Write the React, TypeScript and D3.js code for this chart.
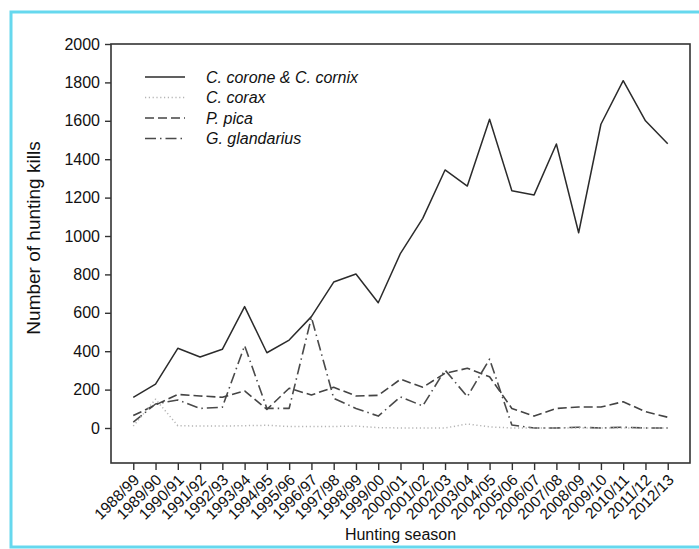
import * as d3 from "d3";
import * as React from "react";

const seasons = [
    "1988/99", "1989/90", "1990/91", "1991/92", "1992/93", "1993/94", "1994/95",
    "1995/96", "1996/97", "1997/98", "1998/99", "1999/00", "2000/01", "2001/02",
    "2002/03", "2003/04", "2004/05", "2005/06", "2006/07", "2007/08", "2008/09",
    "2009/10", "2010/11", "2011/12", "2012/13",
];

const corone = [160, 228, 415, 370, 410, 632, 392, 458, 580, 760, 802, 652, 910, 1092,
    1344, 1260, 1608, 1236, 1214, 1479, 1017, 1582, 1809, 1600, 1480];
const corax = [10, 150, 12, 10, 10, 12, 14, 8, 8, 8, 10, 2, 0, 0,
    0, 21, 6, 0, 0, 0, 0, 0, 0, 0, 0];
const pica = [65, 120, 175, 167, 160, 193, 97, 207, 172, 212, 167, 170, 254, 212,
    285, 311, 267, 102, 62, 102, 109, 109, 137, 85, 56];
const glandarius = [30, 125, 146, 102, 108, 429, 102, 102, 576, 155, 102, 62, 162, 115,
    302, 163, 359, 16, 0, 0, 4, 0, 4, 0, 0];

const yTicks = [0, 200, 400, 600, 800, 1000, 1200, 1400, 1600, 1800, 2000];

const series = [
    { name: "C. corone & C. cornix", values: corone, color: "#2b2b2b", dash: null, width: 1.5 },
    { name: "C. corax", values: corax, color: "#b4b4b4", dash: "1.2,2.6", width: 1.5 },
    { name: "P. pica", values: pica, color: "#444", dash: "9,4", width: 1.6 },
    { name: "G. glandarius", values: glandarius, color: "#4a4a4a", dash: "11,4,1.5,4", width: 1.6 },
];

const W = 699, H = 549;
const box = { left: 111, right: 690, top: 44, bottom: 463 };
const font = "Liberation Sans, Arial, sans-serif";

export default class App extends React.Component<{}, {}> {
    mountRef: SVGSVGElement;

    componentDidMount() {
        const svg = d3.select(this.mountRef);

        // light cyan frame round the figure
        svg.append("rect")
            .attr("x", 11).attr("y", 12)
            .attr("width", 720).attr("height", 535)
            .attr("fill", "none")
            .attr("stroke", "#66d8ee")
            .attr("stroke-width", 3);

        const x = d3.scalePoint()
            .domain(seasons)
            .range([box.left, box.right])
            .padding(1);

        const y = d3.scaleLinear()
            .domain([0, 2000])
            .range([428, box.top]);

        // plot frame
        svg.append("rect")
            .attr("x", box.left).attr("y", box.top)
            .attr("width", box.right - box.left).attr("height", box.bottom - box.top)
            .attr("fill", "none")
            .attr("stroke", "#333")
            .attr("stroke-width", 1.6);

        svg.append("g")
            .attr("transform", `translate(${box.left},0)`)
            .call(d3.axisLeft(y).tickValues(yTicks).tickFormat(d3.format("d")).tickSize(6).tickPadding(5))
            .call(g => g.select(".domain").remove())
            .call(g => g.selectAll("line").attr("stroke", "#333").attr("stroke-width", 1.4))
            .call(g => g.selectAll("text")
                .attr("font-family", font).attr("font-size", 16).attr("fill", "#111"));

        svg.append("g")
            .attr("transform", `translate(0,${box.bottom})`)
            .call(d3.axisBottom(x).tickSize(7).tickFormat(() => ""))
            .call(g => g.select(".domain").remove())
            .call(g => g.selectAll("line").attr("stroke", "#333").attr("stroke-width", 1.4));

        svg.append("g")
            .selectAll("text")
            .data(seasons)
            .join("text")
            .attr("transform", d => `translate(${x(d)! + 7},${box.bottom + 18}) rotate(-45)`)
            .attr("text-anchor", "end")
            .attr("font-family", font)
            .attr("font-size", 15.5)
            .attr("fill", "#111")
            .text(d => d);

        const line = d3.line<number>()
            .x((_, i) => x(seasons[i])!)
            .y(v => y(v));

        svg.append("g")
            .selectAll("path")
            .data(series.slice().reverse())
            .join("path")
            .attr("d", s => line(s.values))
            .attr("fill", "none")
            .attr("stroke", s => s.color)
            .attr("stroke-width", s => s.width)
            .attr("stroke-dasharray", s => s.dash)
            .attr("stroke-linejoin", "round");

        // legend
        const legend = svg.append("g")
            .selectAll("g")
            .data(series)
            .join("g")
            .attr("transform", (_, i) => `translate(145,${77 + i * 20.5})`);

        legend.append("line")
            .attr("x1", 0).attr("x2", 40)
            .attr("stroke", s => s.color)
            .attr("stroke-width", s => s.width)
            .attr("stroke-dasharray", s => s.dash);

        legend.append("text")
            .attr("x", 61).attr("dy", "0.35em")
            .attr("font-family", font)
            .attr("font-size", 16)
            .attr("font-style", "italic")
            .attr("fill", "#111")
            .text(s => s.name);

        svg.append("text")
            .attr("transform", `translate(40,${238}) rotate(-90)`)
            .attr("text-anchor", "middle")
            .attr("font-family", font)
            .attr("font-size", 19)
            .attr("fill", "#111")
            .text("Number of hunting kills");

        svg.append("text")
            .attr("x", (box.left + box.right) / 2)
            .attr("y", 540)
            .attr("text-anchor", "middle")
            .attr("font-family", font)
            .attr("font-size", 16)
            .attr("fill", "#111")
            .text("Hunting season");
    }

    render() {
        return <svg
            width={W}
            height={H}
            style={{ position: "absolute", left: 0, top: 0, background: "#fff" }}
            ref={ref => (this.mountRef = ref!)}
        />;
    }
}
